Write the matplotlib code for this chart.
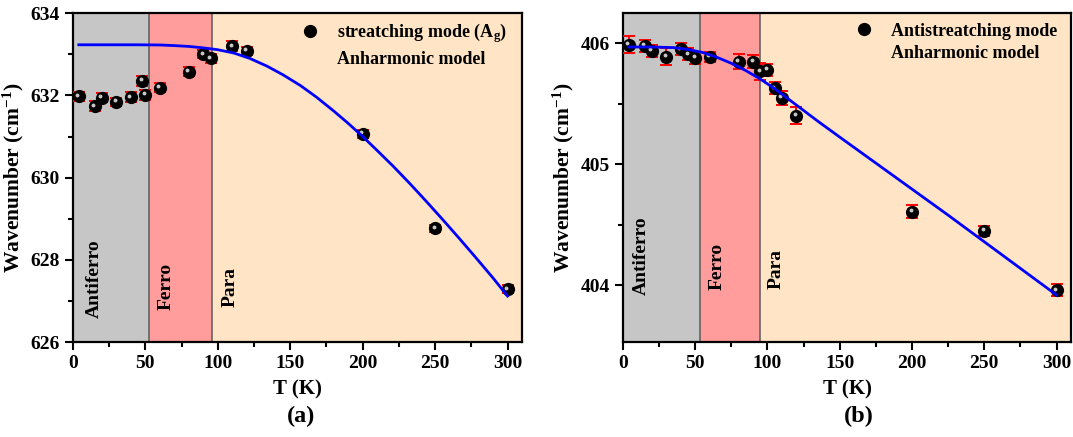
import matplotlib
matplotlib.use('Agg')
import matplotlib.pyplot as plt
import matplotlib.transforms as mtransforms
from matplotlib.lines import Line2D
from matplotlib.ticker import MultipleLocator

plt.rcParams['font.family'] = ['Liberation Serif', 'DejaVu Serif']
plt.rcParams['font.weight'] = 'bold'
plt.rcParams['mathtext.fontset'] = 'custom'
plt.rcParams['mathtext.rm'] = 'Liberation Serif:bold'
plt.rcParams['mathtext.it'] = 'Liberation Serif:bold'
plt.rcParams['mathtext.bf'] = 'Liberation Serif:bold'

# (a) stretching mode (Ag)
T_a = [4, 15, 20, 30, 40, 48, 50, 60, 80, 90, 95, 110, 120, 200, 250, 300]
w_a = [631.98, 631.74, 631.94, 631.84, 631.96, 632.35, 632.01, 632.19, 632.58,
       633.00, 632.90, 633.20, 633.08, 631.07, 628.77, 627.29]
err_a = [0.11, 0.12, 0.11, 0.10, 0.12, 0.11, 0.12, 0.10, 0.11,
         0.10, 0.11, 0.11, 0.10, 0.10, 0.09, 0.10]
fitT_a = [4, 25, 45, 60, 70, 80, 90, 100, 111, 122, 134, 145, 157, 168, 180, 190,
          200, 210, 221, 233, 244, 255, 267, 278, 290, 300]
fitw_a = [633.23, 633.23, 633.23, 633.225, 633.21, 633.19, 633.155, 633.11, 633.03,
          632.90, 632.71, 632.50, 632.24, 631.96, 631.62, 631.32, 631.00, 630.66,
          630.28, 629.84, 629.42, 628.99, 628.51, 628.06, 627.56, 627.12]

# (b) antistretching mode
T_b = [4, 15, 20, 30, 40, 45, 50, 60, 80, 90, 95, 100, 105, 110, 120, 200, 250, 300]
w_b = [405.99, 405.98, 405.94, 405.89, 405.95, 405.91, 405.88, 405.89, 405.85,
       405.85, 405.77, 405.78, 405.63, 405.55, 405.40, 404.61, 404.45, 403.96]
err_b = [0.07, 0.05, 0.05, 0.07, 0.05, 0.05, 0.05, 0.04, 0.06,
         0.05, 0.07, 0.05, 0.05, 0.06, 0.07, 0.05, 0.04, 0.05]
fitT_b = [4, 20, 35, 45, 55, 65, 75, 85, 95, 105, 115, 125, 135, 150, 175,
          200, 225, 250, 275, 300]
fitw_b = [405.97, 405.97, 405.965, 405.95, 405.925, 405.885, 405.835, 405.775,
          405.705, 405.625, 405.535, 405.445, 405.355, 405.225, 405.01,
          404.795, 404.58, 404.36, 404.14, 403.92]

# magnetic phases
phase_names = ['Antiferro', 'Ferro', 'Para']
phase_colors = ['#c6c6c6', '#ff9c9c', '#ffe5c6']
bounds_a = [0, 52.5, 96, 310]
bounds_b = [0, 53, 95, 310]
label_x_a = [15, 64, 108.5]
label_x_b = [13, 65, 106]
label_y_a = [0.073, 0.097, 0.106]
label_y_b = [0.143, 0.158, 0.161]

fig = plt.figure(figsize=(10.73, 4.37), dpi=100)
ax_a = fig.add_axes([0.068, 0.217, 0.4185, 0.753])
ax_b = fig.add_axes([0.5806, 0.217, 0.4175, 0.753])


def draw_panel(ax, T, w, err, fitT, fitw, bounds, lab_x, lab_y, ylim, label,
               leg_x, leg_y, leg_sp):
    for i in range(3):
        ax.axvspan(bounds[i], bounds[i + 1], color=phase_colors[i], lw=0, zorder=0)
    for b in bounds[1:3]:
        ax.axvline(b, color='#5a5a5a', lw=1.1, zorder=1)
    trans = mtransforms.blended_transform_factory(ax.transData, ax.transAxes)
    for i in range(3):
        ax.text(lab_x[i], lab_y[i], phase_names[i], rotation=90, fontsize=14,
                fontweight='bold', ha='center', va='bottom', transform=trans, zorder=2)

    ax.errorbar(T, w, yerr=err, fmt='none', ecolor='red', elinewidth=1.4,
                capsize=4, capthick=1.4, zorder=3)
    ax.plot(T, w, 'o', color='black', ms=8.5, zorder=4)
    hl = mtransforms.offset_copy(ax.transData, fig=fig, x=-1.5, y=1.5, units='dots')
    ax.plot(T, w, 'o', color='#c8c8c8', ms=2.8, mew=0, transform=hl, zorder=5)
    ax.plot(fitT, fitw, color='#0000ff', lw=2, zorder=6)

    ax.set_xlim(0, 310)
    ax.set_ylim(*ylim)
    ax.xaxis.set_major_locator(MultipleLocator(50))
    ax.xaxis.set_minor_locator(MultipleLocator(25))
    ax.tick_params(which='both', direction='out', width=1.5, labelsize=14)
    ax.tick_params(which='major', length=6)
    ax.tick_params(which='minor', length=3.5)
    for lab in ax.get_xticklabels() + ax.get_yticklabels():
        lab.set_fontweight('bold')
    for s in ax.spines.values():
        s.set_linewidth(1.6)
    ax.set_xlabel('T (K)', fontsize=15, fontweight='bold', labelpad=5)
    ax.set_ylabel('Wavenumber (cm$^{-1}$)', fontsize=15.5, fontweight='bold', labelpad=3)

    handles = [Line2D([], [], marker='o', color='black', ls='none', ms=8.5),
               Line2D([], [], ls='none')]
    ax.legend(handles, [label, 'Anharmonic model'], loc='upper left',
              bbox_to_anchor=(leg_x, leg_y), frameon=False,
              handlelength=1.0, handletextpad=1.0, borderpad=0,
              labelspacing=leg_sp, prop={'weight': 'bold', 'size': 13})


draw_panel(ax_a, T_a, w_a, err_a, fitT_a, fitw_a, bounds_a, label_x_a, label_y_a,
           (626, 634), 'streatching mode (A$_\\mathregular{g}$)', 0.487, 1.003, 0.33)
ax_a.yaxis.set_major_locator(MultipleLocator(2))
ax_a.yaxis.set_minor_locator(MultipleLocator(1))

draw_panel(ax_b, T_b, w_b, err_b, fitT_b, fitw_b, bounds_b, label_x_b, label_y_b,
           (403.53, 406.25), 'Antistreatching mode', 0.497, 0.998, 0.3)
ax_b.yaxis.set_major_locator(MultipleLocator(1))
ax_b.yaxis.set_minor_locator(MultipleLocator(0.5))

fig.text(0.281, 0.048, '(a)', fontsize=17.5, fontweight='bold', ha='center', va='center')
fig.text(0.800, 0.048, '(b)', fontsize=17.5, fontweight='bold', ha='center', va='center')

fig.savefig('out.png', dpi=100)
